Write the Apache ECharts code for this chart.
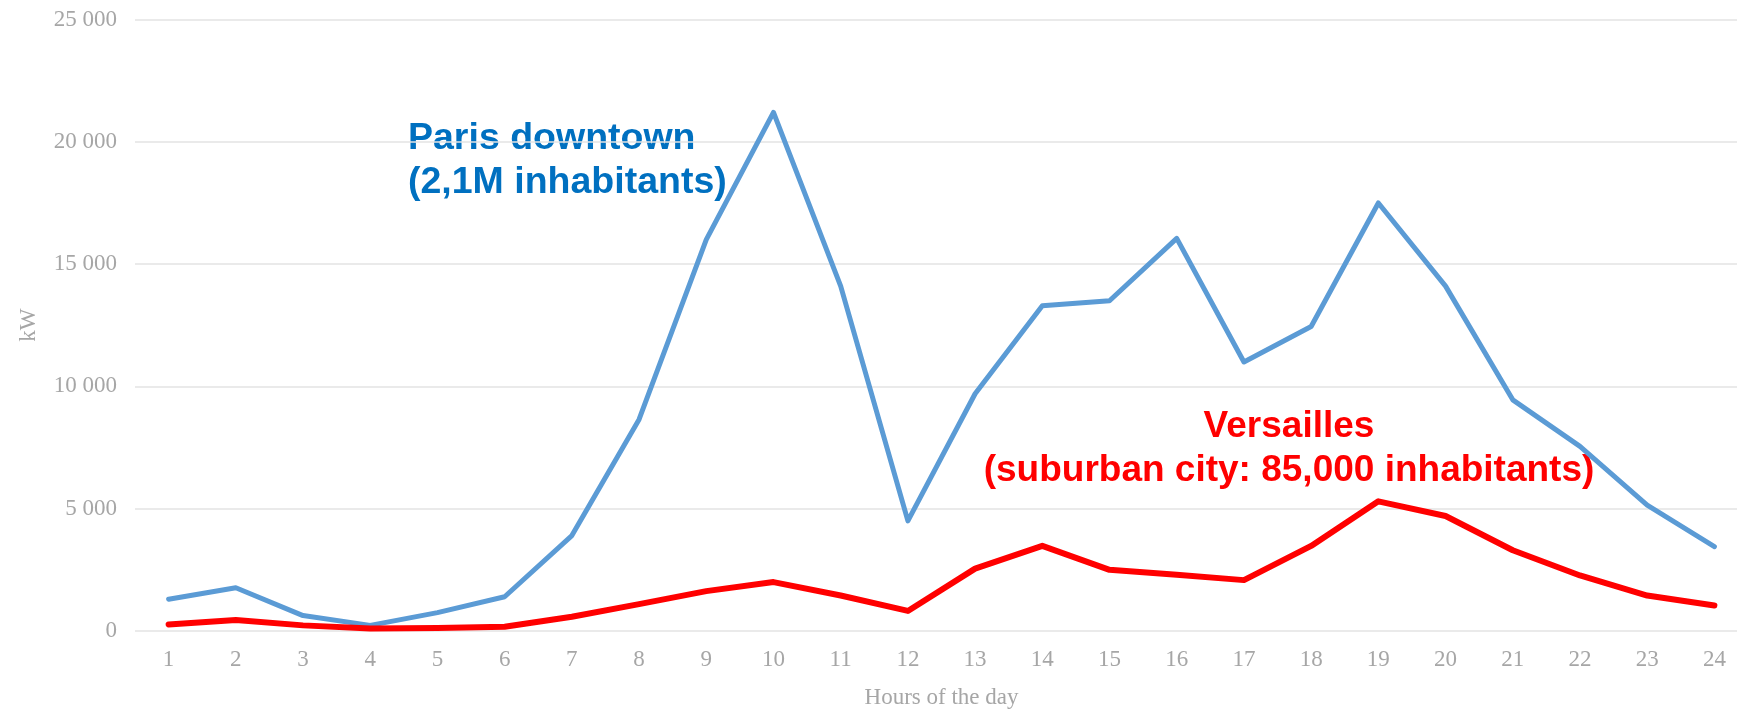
<!DOCTYPE html>
<html>
<head>
<meta charset="utf-8">
<script src="https://cdn.jsdelivr.net/npm/echarts@6/dist/echarts.min.js"></script>
<style>
  html, body { margin: 0; padding: 0; background: #ffffff; }
  #chart { width: 1737px; height: 711px; }
</style>
</head>
<body>
<div id="chart"></div>
<script>
// Hourly electric load (kW)
const hours = ['1','2','3','4','5','6','7','8','9','10','11','12','13','14','15','16','17','18','19','20','21','22','23','24'];
const parisDowntown = [1300, 1770, 630, 230, 750, 1400, 3900, 8650, 16000, 21200, 14100, 4500, 9700, 13300, 13500, 16050, 11000, 12450, 17500, 14100, 9450, 7550, 5150, 3450];
const versailles = [270, 450, 230, 100, 120, 170, 580, 1100, 1630, 2000, 1450, 820, 2550, 3480, 2500, 2300, 2080, 3480, 5300, 4700, 3300, 2270, 1450, 1040];
const yTicks = [0, 5000, 10000, 15000, 20000, 25000];

const parisLabel = ['Paris downtown', '(2,1M inhabitants)'];
const versaillesLabel = ['Versailles', '(suburban city: 85,000 inhabitants)'];

const axisGrey = '#A6A6A6';
const serif = '"Liberation Serif", "Times New Roman", serif';
const sans = '"Liberation Sans", Arial, sans-serif';

const chart = echarts.init(document.getElementById('chart'), null, { renderer: 'canvas' });

chart.setOption({
  animation: false,
  backgroundColor: '#ffffff',
  // the plot runs a little past the right edge of the canvas
  grid: { left: 135, width: 1613, top: 19.5, bottom: 80, containLabel: false, outerBoundsMode: 'none' },
  xAxis: {
    type: 'category',
    data: hours,
    boundaryGap: true,
    name: 'Hours of the day',
    nameLocation: 'middle',
    nameGap: 55,
    nameTextStyle: { color: axisGrey, fontFamily: serif, fontSize: 23 },
    axisLine: { show: false },
    axisTick: { show: false },
    axisLabel: { color: axisGrey, fontFamily: serif, fontSize: 23, margin: 17 }
  },
  yAxis: {
    type: 'value',
    min: yTicks[0],
    max: yTicks[yTicks.length - 1],
    interval: yTicks[1] - yTicks[0],
    name: 'kW',
    nameLocation: 'middle',
    nameGap: 95,
    nameRotate: 90,
    nameTextStyle: { color: axisGrey, fontFamily: serif, fontSize: 23 },
    axisLine: { show: false },
    axisTick: { show: false },
    axisLabel: {
      color: axisGrey, fontFamily: serif, fontSize: 23, margin: 18,
      formatter: v => String(v).replace(/\B(?=(\d{3})+(?!\d))/g, ' ')
    },
    splitLine: { lineStyle: { color: '#E3E3E3', width: 1.5 } }
  },
  series: [
    {
      name: 'Paris downtown',
      type: 'line',
      data: parisDowntown,
      symbol: 'none',
      smooth: false,
      lineStyle: { color: '#5B9BD5', width: 5, cap: 'round', join: 'round' },
      z: 2
    },
    {
      name: 'Versailles',
      type: 'line',
      data: versailles,
      symbol: 'none',
      smooth: false,
      lineStyle: { color: '#FF0000', width: 6, cap: 'round', join: 'round' },
      z: 3
    }
  ],
  graphic: [
    {
      type: 'text',
      left: 408,
      top: 117,
      style: {
        text: parisLabel.join('\n'),
        fill: '#0070C0',
        font: 'bold 37.5px ' + sans,
        lineHeight: 44,
        align: 'left'
      }
    },
    {
      type: 'text',
      x: 1289,
      y: 405,
      style: {
        text: versaillesLabel.join('\n'),
        fill: '#FF0000',
        font: 'bold 37px ' + sans,
        lineHeight: 44,
        align: 'center'
      }
    }
  ]
});
</script>
</body>
</html>
